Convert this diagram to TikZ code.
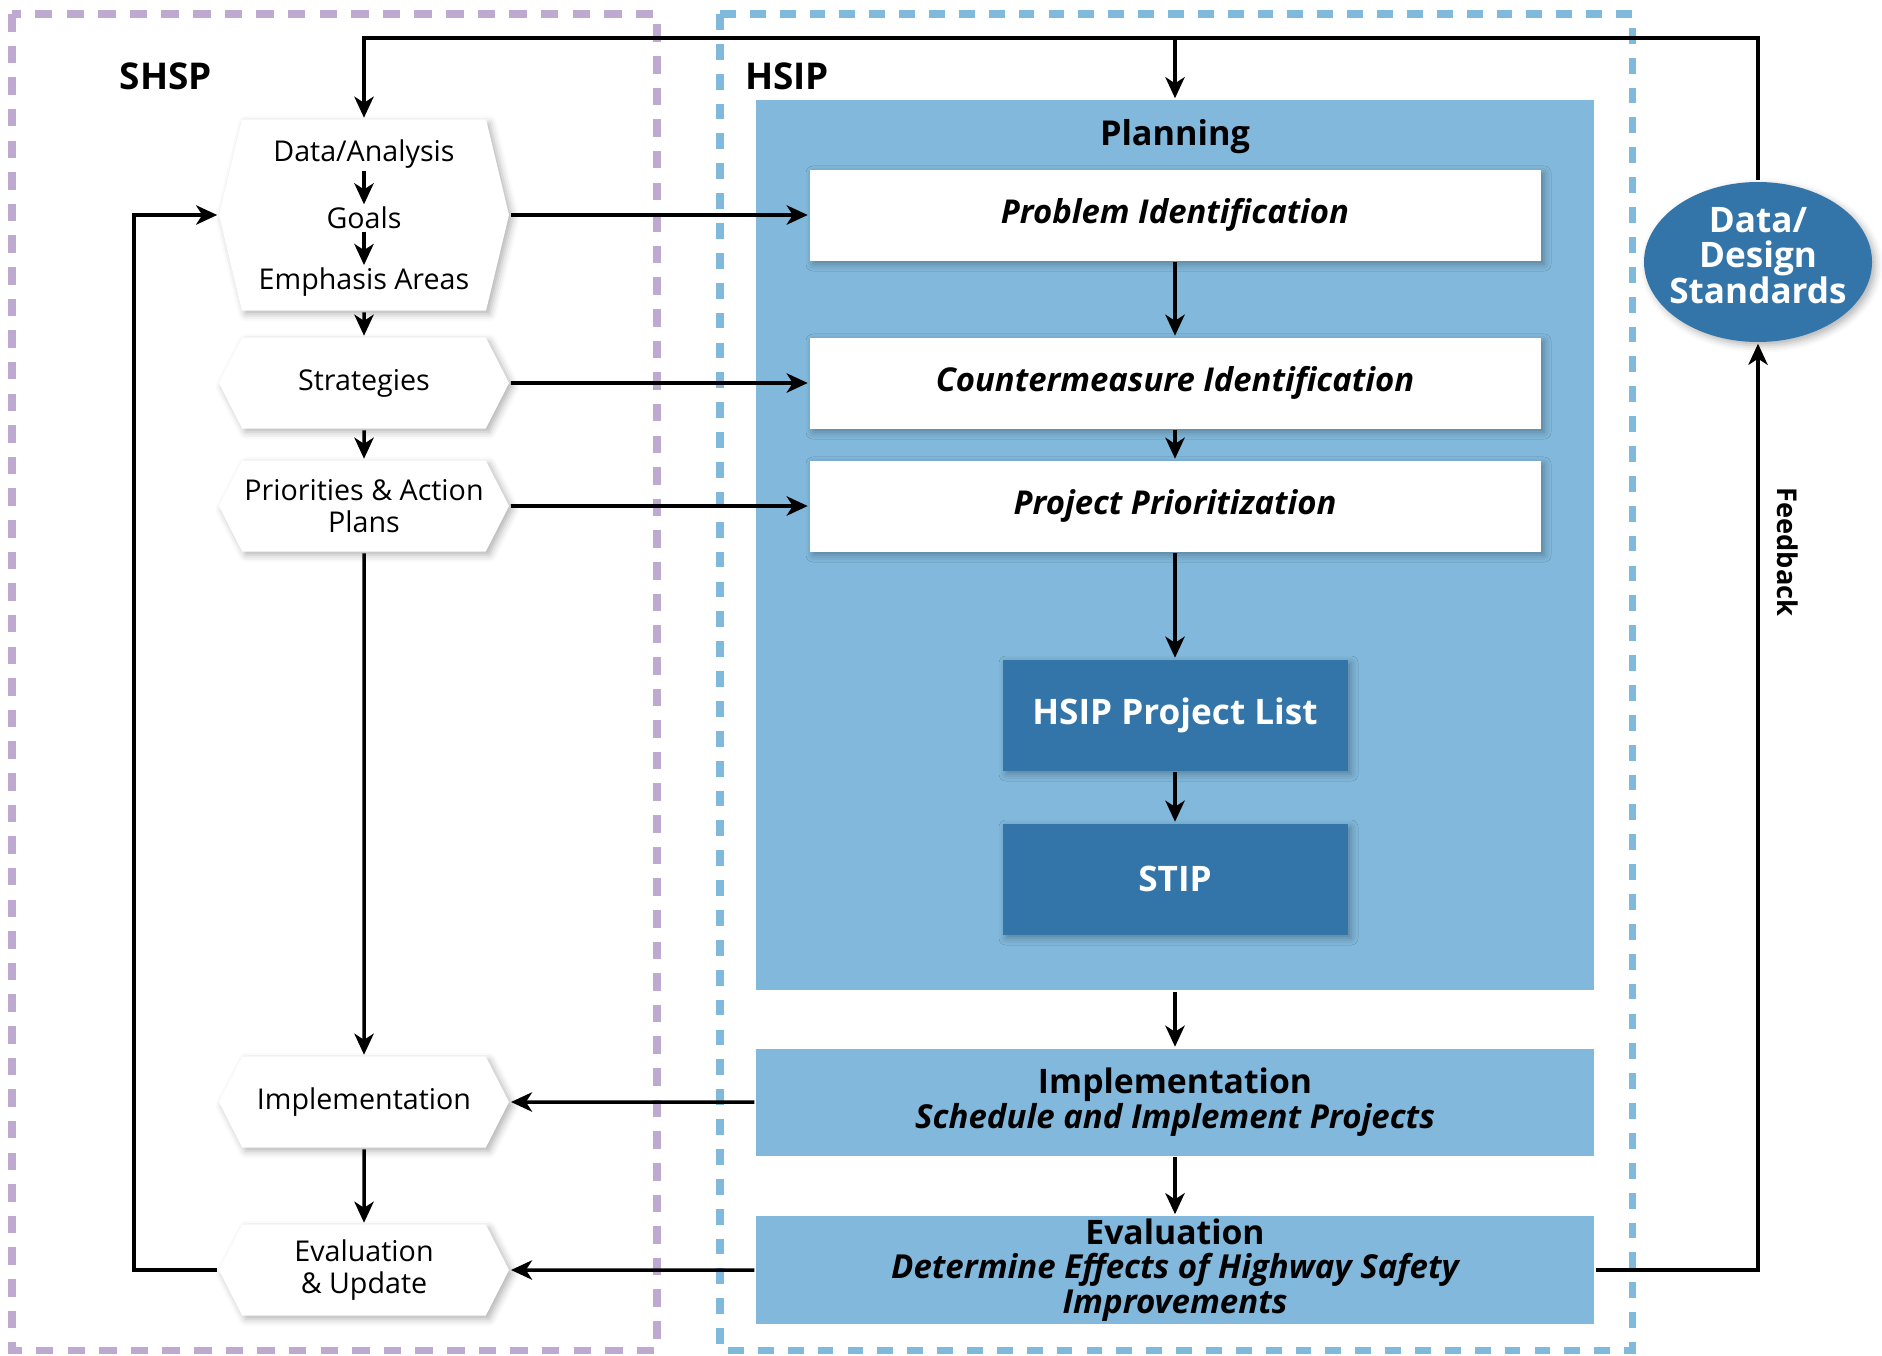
\documentclass[tikz,border=0pt]{standalone}
\usepackage{fontspec}
\setmainfont{Open Sans}
\usepackage{tikz}
\usetikzlibrary{positioning}
\usetikzlibrary{arrows.meta,shapes,shadows,shadows.blur}
\usetikzlibrary{calc}
\definecolor[named]{lavender}{RGB}{190,169,208}
\definecolor[named]{skyblue}{RGB}{127,185,220}
\definecolor[named]{paleblue}{RGB}{129,184,219}
\definecolor[named]{steelblue}{RGB}{51,117,169}
\newlength{\px}
\setlength{\px}{0.02cm}

\begin{document}
\begin{tikzpicture}[x=0.02cm,y=-0.02cm,line width=2pt,
    >={Stealth[length=12pt,width=11pt,inset=3.5pt]}]
   \useasboundingbox (0,0) rectangle (1882,1355);
   \tikzstyle{softshadow}=[blur shadow={shadow xshift=2pt,shadow yshift=-2pt,shadow blur radius=4pt,shadow opacity=30}]
   \tikzstyle{hexbox}=[shape=signal,signal to=west and east,fill=white,inner sep=0pt,
      minimum width=290\px,minimum height=91\px,signal pointer angle=126,align=center,
      font=\fontsize{16.3}{17.8}\selectfont,softshadow]
   \tikzstyle{hextext}=[inner sep=0.5pt,font=\fontsize{16.3}{17.8}\selectfont]
   \tikzstyle{whitebox}=[rectangle,fill=white,minimum width=731\px,minimum height=91\px,
      font=\fontsize{18.7}{20}\selectfont\bfseries\itshape,softshadow]
   \tikzstyle{darkbox}=[rectangle,fill=steelblue,text=white,minimum width=345\px,minimum height=111\px,
      font=\fontsize{20}{22}\selectfont\bfseries,softshadow]
   \tikzstyle{stagebox}=[rectangle,fill=paleblue,minimum width=838\px,minimum height=107\px,
      align=center,inner sep=0pt,font=\fontsize{18.8}{19.6}\selectfont\bfseries]
   \tikzstyle{title}=[font=\fontsize{21}{23}\selectfont\bfseries]
   % the two programmes
   \draw[lavender,line width=4pt,dash pattern=on 10pt off 8pt] (12,14) rectangle (657,1350);
   \draw[skyblue,line width=4pt,dash pattern=on 9pt off 8pt] (720,14) rectangle (1632,1350);
   \node[title] (shsp) at (166,76) {SHSP};
   \node[title] (hsip) at (787,76) {HSIP};
   % HSIP side
   \node[fill=paleblue,minimum width=838\px,minimum height=890\px,inner sep=0pt] (planbox) at (1175,545) {};
   \node[font=\fontsize{19.5}{21}\selectfont\bfseries] (plantitle) at (1175,137) {Planning};
   \node[whitebox] (probid) at (1175,215) {Problem Identification};
   \node[whitebox] (cmid) at (1175,383) {Countermeasure Identification};
   \node[whitebox] (pprio) at (1175,506) {Project Prioritization};
   \node[darkbox] (plist) at (1175,715) {HSIP Project List};
   \node[darkbox] (stip) at (1175,879) {STIP};
   \node[stagebox] (himpl) at (1175,1102) {{\fontsize{19.2}{19.6}\selectfont Implementation}\\\itshape Schedule and Implement Projects};
   \node[stagebox,minimum height=108\px] (heval) at (1175,1270) {{\fontsize{19.2}{19.6}\selectfont Evaluation}\\\itshape Determine Effects of Highway Safety\\\itshape Improvements};
   \node[ellipse,fill=steelblue,minimum width=228\px,minimum height=160\px,inner sep=0pt,softshadow] (stds) at (1758,262) {};
   \node[text=white,align=center,font=\fontsize{20}{19.5}\selectfont\bfseries] (stdstxt) at (1758,256) {Data/\\Design\\Standards};
   \node[rotate=-90,font=\fontsize{15.5}{18}\selectfont\bfseries] (fb) at (1788,552) {Feedback};
   % SHSP side
   \node[hexbox,minimum height=191\px,signal pointer angle=153] (datahex) at (364,215) {};
   \node[hextext] (data) at (364,154) {Data/Analysis};
   \node[hextext] (goals) at (364,218) {Goals};
   \node[hextext] (areas) at (364,282) {Emphasis Areas};
   \node[hexbox] (strat) at (364,383) {Strategies};
   \node[hexbox] (prio) at (364,506) {Priorities \& Action\\Plans};
   \node[hexbox] (impl) at (364,1102) {Implementation};
   \node[hexbox] (eval) at (364,1270) {Evaluation\\\& Update};
   % connectors
   \coordinate (top) at (0,38);
   \coordinate (loop) at (134,0);
   \draw[->] (stds.north) |- (top -| datahex.north) -- (datahex.north);
   \draw[->] (planbox.north |- top) -- (planbox.north);
   \draw[->] (data) -- (goals);
   \draw[->] (goals) -- (areas);
   \draw[->] (datahex) -- (strat);
   \draw[->] (strat) -- (prio);
   \draw[->] (prio) -- (impl);
   \draw[->] (impl) -- (eval);
   \draw[->] (eval.west) -- (eval.west -| loop) -- (loop |- datahex.west) -- (datahex.west);
   \draw[->] (datahex) -- (probid);
   \draw[->] (strat) -- (cmid);
   \draw[->] (prio) -- (pprio);
   \draw[->] (probid) -- (cmid);
   \draw[->] (cmid) -- (pprio);
   \draw[->] (pprio) -- (plist);
   \draw[->] (plist) -- (stip);
   \draw[->] (planbox) -- (himpl);
   \draw[->] (himpl) -- (heval);
   \draw[->] (himpl) -- (impl);
   \draw[->] (heval) -- (eval);
   \draw[->] (heval.east) -| (stds.south);
\end{tikzpicture}
\end{document}
